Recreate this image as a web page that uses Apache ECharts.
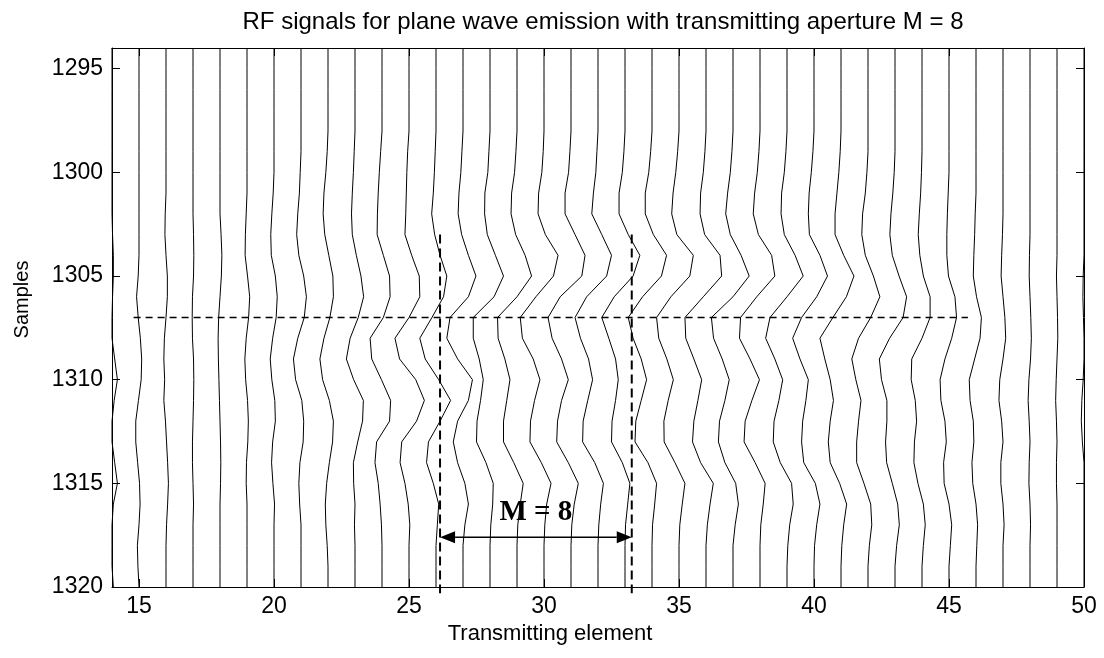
<!DOCTYPE html>
<html><head><meta charset="utf-8">
<script src="https://cdn.jsdelivr.net/npm/echarts@6/dist/echarts.min.js"></script>
<style>html,body{margin:0;padding:0;background:#fff}#c{width:1104px;height:658px}</style>
</head><body><div id="c"></div>
<script>
const samples = [1294,1295,1296,1297,1298,1299,1300,1301,1302,1303,1304,1305,1306,1307,1308,1309,1310,1311,1312,1313,1314,1315,1316,1317,1318,1319,1320];
const elements = [14,15,16,17,18,19,20,21,22,23,24,25,26,27,28,29,30,31,32,33,34,35,36,37,38,39,40,41,42,43,44,45,46,47,48,49,50];
// offset of each trace from its element position (in element units), one row per element, one value per sample
const traceOffsets = [
[0,0,0,0,0,0,0,0,0,0.02,0.05,0.05,0.02,0,0,0.1,0.2,0.08,0,0,0.1,0.2,0.05,0,0,0,0.05],
[0,0,0,0,0,0,0,0,0,0,0,-0.03,-0.09,-0.03,0.05,0.1,0.08,-0.02,-0.12,-0.12,-0.05,0.02,0.04,0,-0.06,-0.04,0],
[0,0,0,0,0,0,0,0,-0.03,-0.04,0,0.05,0.05,0,-0.06,-0.08,-0.05,-0.08,-0.02,0.02,0.06,0.09,0.06,0.02,0,0,0],
[0,0,0,0,0,0,0,0,0,0.02,0.03,0.02,-0.02,-0.03,-0.02,0.02,0.03,0.02,0,-0.02,-0.02,0,0.02,0,0,0,0],
[0,0,0,0,0,0,0,0,0,0.04,0.07,0.05,0,-0.05,-0.07,-0.06,-0.04,-0.02,0,0.02,0.03,0.02,0,0,0,0,0],
[0,0,0,0,0,0,0,0,-0.03,-0.06,-0.07,0.02,0.1,0.06,-0.03,-0.08,-0.05,0.02,0.05,0.03,-0.02,-0.03,0,0,0,0,0],
[0,0,0,0,0,0,0,-0.03,-0.08,-0.12,-0.1,0.05,0.12,0.08,-0.05,-0.14,-0.08,0.03,0.05,-0.05,-0.09,-0.04,0.02,0,0,0,0],
[0,0,0,0,0,0,-0.03,-0.06,-0.12,-0.16,-0.08,0.1,0.2,0.12,-0.12,-0.28,-0.2,0.03,0.1,0.08,-0.04,-0.08,-0.05,0,0,0,0],
[0,0,0,0,0,-0.03,-0.08,-0.15,-0.18,-0.12,0.03,0.18,0.2,0.07,-0.15,-0.3,-0.2,0.05,0.2,0.17,0.05,-0.05,-0.1,-0.08,-0.03,0,0],
[0,0,0,0,0,-0.03,-0.06,-0.1,-0.13,-0.1,0.05,0.22,0.32,0.12,-0.18,-0.32,-0.05,0.31,0.28,0.1,-0.06,-0.05,0,-0.02,0,0,0],
[0,0,0,0,0,-0.05,-0.1,-0.14,-0.17,-0.18,0.05,0.28,0.3,0.05,-0.44,-0.38,-0.02,0.32,0.28,-0.2,-0.26,-0.14,-0.07,-0.02,0,0,0],
[0,0,0,0,0,-0.05,-0.08,-0.1,-0.12,-0.15,0.1,0.38,0.4,0,-0.52,-0.35,0.25,0.57,0.28,-0.27,-0.33,-0.15,-0.03,0.03,0,0,0],
[0,0,0,0,0,-0.03,-0.06,-0.1,-0.16,-0.05,0.15,0.4,0.28,-0.15,-0.6,-0.4,0.1,0.54,0.15,-0.28,-0.35,-0.1,0.1,0.05,0,0,0],
[0,0,0,0,0,-0.04,-0.08,-0.15,-0.18,-0.05,0.2,0.48,0.2,-0.48,-0.6,-0.2,0.35,0.2,-0.2,-0.36,-0.2,0.07,0.2,0.07,0,0,0],
[0,0,0,0,0,-0.04,-0.08,-0.19,-0.2,-0.1,0.2,0.5,0.15,-0.62,-0.62,-0.4,-0.25,-0.35,-0.48,-0.5,-0.15,0.12,0.1,0.03,0,0,0],
[0,0,0,0,0,-0.04,-0.09,-0.2,-0.22,-0.05,0.3,0.54,0,-0.72,-0.7,-0.45,-0.26,-0.38,-0.5,-0.5,-0.12,0.23,0.12,0.03,0,0,0],
[0,0,0,0,0,-0.03,-0.08,-0.2,-0.22,0.05,0.52,0.35,-0.3,-0.88,-0.8,-0.4,-0.15,-0.35,-0.5,-0.52,-0.1,0.26,0.1,0.03,0,0,0],
[0,0,0,0,0,-0.04,-0.09,-0.22,-0.22,0.15,0.52,0.4,-0.4,-0.85,-0.7,-0.35,-0.1,-0.35,-0.5,-0.53,-0.1,0.27,0.12,0.03,0,0,0],
[0,0,0,0,0,-0.04,-0.08,-0.17,-0.23,0.14,0.5,0.32,-0.42,-0.85,-0.65,-0.35,-0.2,-0.38,-0.55,-0.57,-0.12,0.2,0.1,0.03,0,0,0],
[0,0,0,0,0,-0.04,-0.1,-0.22,-0.22,0.12,0.55,0.3,-0.4,-0.86,-0.6,-0.35,-0.25,-0.35,-0.48,-0.5,-0.1,0.18,0.1,0.02,0,0,0],
[0,0,0,0,0,-0.05,-0.12,-0.25,-0.25,0.05,0.54,0.35,-0.35,-0.88,-0.7,-0.4,-0.2,-0.4,-0.6,-0.63,-0.15,0.17,0.1,0.02,0,0,0],
[0,0,0,0,0,-0.05,-0.12,-0.22,-0.27,-0.08,0.53,0.4,-0.3,-0.83,-0.75,-0.45,-0.21,-0.4,-0.56,-0.55,-0.15,0.22,0.12,0.03,0,0,0],
[0,0,0,0,0,-0.04,-0.1,-0.2,-0.22,-0.05,0.52,0.58,-0.1,-0.78,-0.75,-0.45,-0.16,-0.3,-0.45,-0.5,-0.2,0.27,0.15,0.05,0,0,0],
[0,0,0,0,0,-0.04,-0.1,-0.2,-0.27,-0.1,0.3,0.6,0,-0.8,-0.72,-0.4,-0.14,-0.3,-0.5,-0.54,-0.3,0.1,0.2,0.08,0,0,0],
[0,0,0,0,0,-0.04,-0.1,-0.2,-0.25,-0.06,0.43,0.55,-0.12,-0.72,-0.76,-0.37,-0.02,-0.3,-0.55,-0.59,-0.18,0.19,0.12,0.03,0,0,0],
[0,0,0,0,0,-0.04,-0.1,-0.2,-0.22,-0.1,0.3,0.6,0,-0.63,-0.79,-0.45,-0.16,-0.3,-0.48,-0.51,-0.25,0.17,0.23,0.1,0.03,0,0],
[0,0,0,0,0,-0.04,-0.1,-0.18,-0.21,-0.17,0.22,0.5,0.1,-0.46,-0.79,-0.52,-0.21,-0.3,-0.42,-0.46,-0.38,0.05,0.22,0.1,0.02,0,0],
[0,0,0,0,0,-0.03,-0.08,-0.15,-0.22,-0.22,0.1,0.48,0.2,-0.3,-0.78,-0.6,-0.4,-0.28,-0.4,-0.47,-0.4,-0.05,0.21,0.1,0.03,0,0],
[0,0,0,0,0,0,-0.04,-0.1,-0.2,-0.23,-0.1,0.2,0.44,0.1,-0.35,-0.6,-0.45,-0.26,-0.35,-0.42,-0.42,-0.15,0.1,0.14,0.05,0,0],
[0,0,0,0,0,0,-0.03,-0.08,-0.15,-0.19,-0.1,0.15,0.43,0.3,-0.2,-0.58,-0.5,-0.3,-0.3,-0.35,-0.31,-0.1,0.1,0.16,0.06,0,0],
[0,0,0,0,0,0,-0.02,-0.05,-0.1,-0.14,-0.08,0.05,0.3,0.3,0,-0.38,-0.4,-0.25,-0.2,-0.28,-0.3,-0.15,0.05,0.12,0.05,0,0],
[0,0,0,0,0,0,0,-0.03,-0.06,-0.08,-0.08,-0.02,0.22,0.28,0.1,-0.15,-0.33,-0.3,-0.15,-0.1,-0.2,-0.18,0,0.1,0.05,0,0],
[0,0,0,0,0,0,0,0,-0.03,-0.05,-0.08,-0.1,0.02,0.2,0.15,-0.05,-0.25,-0.22,-0.1,-0.08,-0.15,-0.12,0,0.06,0.03,0,0],
[0,0,0,0,0,0,0,0,0,-0.02,-0.05,-0.07,0,0.07,0.1,0,-0.12,-0.15,-0.05,0,-0.08,-0.08,0,0.04,0,0,0],
[0,0,0,0,0,0,0,0,0,0,-0.02,-0.03,0,0.03,0.05,0.02,-0.04,-0.07,-0.03,0,-0.03,-0.04,0,0.02,0,0,0],
[0,0,0,0,0,0,0,0,0,0,0,-0.02,0,0.02,0.03,0,-0.03,-0.05,-0.02,0,-0.02,-0.02,0,0,0,0,0],
[0,0,0,0,0,0,0,0,0,0,0,-0.03,-0.04,-0.02,0,0,-0.03,-0.08,-0.1,-0.06,0,0,0,0,0,0,0]
];
const xTicks = [15,20,25,30,35,40,45,50];
const yTicks = [1295,1300,1305,1310,1315,1320];
const refSample = 1307;
const refLineRange = [14.8, 45.7];
const apertureEdges = [26.15, 33.25];
const apertureSampleRange = [1303, 1320.3];
const arrowSample = 1317.6;
const apertureLabel = 'M = 8';
const apertureLabelPos = [29.7, 1316.4];

const FONT = 'Liberation Sans, Arial, Helvetica, sans-serif';
const chart = echarts.init(document.getElementById('c'), null, {renderer: 'canvas'});

const series = elements.map((e, k) => ({
  type: 'line',
  data: samples.map((s, i) => [e + traceOffsets[k][i], s]),
  symbol: 'none', showSymbol: false, silent: true, clip: true,
  lineStyle: {color: '#000', width: 1},
  z: 2
}));

series.push({
  type: 'line', symbol: 'none', silent: true, clip: true,
  data: [[refLineRange[0], refSample], [refLineRange[1], refSample]],
  lineStyle: {color: '#000', width: 1.6, type: [7, 5]}, z: 3
});
apertureEdges.forEach(x => series.push({
  type: 'line', symbol: 'none', silent: true, clip: false,
  data: [[x, apertureSampleRange[0]], [x, apertureSampleRange[1]]],
  lineStyle: {color: '#000', width: 2, type: [9, 5]}, z: 3
}));
series.push({
  type: 'custom', silent: true, clip: false, z: 4,
  data: [[apertureEdges[0], apertureEdges[1], arrowSample]],
  renderItem: function (params, api) {
    const p1 = api.coord([api.value(0), api.value(2)]);
    const p2 = api.coord([api.value(1), api.value(2)]);
    const L = 15, W = 6;
    return {type: 'group', children: [
      {type: 'line', shape: {x1: p1[0] + L, y1: p1[1], x2: p2[0] - L, y2: p2[1]}, style: {stroke: '#000', lineWidth: 1.5}},
      {type: 'polygon', shape: {points: [[p1[0], p1[1]], [p1[0] + L, p1[1] - W], [p1[0] + L, p1[1] + W]]}, style: {fill: '#000'}},
      {type: 'polygon', shape: {points: [[p2[0], p2[1]], [p2[0] - L, p2[1] - W], [p2[0] - L, p2[1] + W]]}, style: {fill: '#000'}}
    ]};
  }
});
series.push({
  type: 'custom', silent: true, clip: false, z: 5,
  data: [apertureLabelPos],
  renderItem: function (params, api) {
    const p = api.coord([api.value(0), api.value(1)]);
    return {type: 'text', x: p[0], y: p[1], style: {text: apertureLabel, fill: '#000',
      font: 'bold 29px "Liberation Serif", "Times New Roman", serif', align: 'center', verticalAlign: 'middle'}};
  }
});

const axisLineStyle = {show: true, onZero: false, lineStyle: {color: '#000', width: 1}};
const plain = v => String(v);
chart.setOption({
  animation: false,
  backgroundColor: '#fff',
  title: {text: 'RF signals for plane wave emission with transmitting aperture M = 8', left: 598, top: 5, textAlign: 'center',
    textStyle: {fontSize: 24, fontWeight: 'normal', color: '#000', fontFamily: FONT}},
  grid: {left: 112, right: 20, top: 48, bottom: 71, containLabel: false},
  xAxis: [
    {type: 'value', min: 14, max: 50, position: 'bottom', axisLine: axisLineStyle,
     axisTick: {show: true, inside: true, length: 8, customValues: xTicks, lineStyle: {color: '#000'}},
     axisLabel: {customValues: xTicks, formatter: plain, color: '#000', fontSize: 23, fontFamily: FONT, margin: 8},
     splitLine: {show: false},
     name: 'Transmitting element', nameLocation: 'middle', nameGap: 29,
     nameTextStyle: {fontSize: 22, color: '#000', fontFamily: FONT, padding: [0, 96, 0, 0]}},
    {type: 'value', min: 14, max: 50, position: 'top', axisLine: axisLineStyle,
     axisTick: {show: true, inside: true, length: 8, customValues: xTicks, lineStyle: {color: '#000'}},
     axisLabel: {show: false}, splitLine: {show: false}}
  ],
  yAxis: [
    {type: 'value', min: 1294, max: 1320, inverse: true, position: 'left', axisLine: axisLineStyle,
     axisTick: {show: true, inside: true, length: 8, customValues: yTicks, lineStyle: {color: '#000'}},
     axisLabel: {customValues: yTicks, formatter: plain, color: '#000', fontSize: 23, fontFamily: FONT, margin: 9},
     splitLine: {show: false},
     name: 'Samples', nameLocation: 'middle', nameGap: 80, nameRotate: 90,
     nameTextStyle: {fontSize: 20, color: '#000', fontFamily: FONT, padding: [0, 0, 0, 36]}},
    {type: 'value', min: 1294, max: 1320, inverse: true, position: 'right', axisLine: axisLineStyle,
     axisTick: {show: true, inside: true, length: 8, customValues: yTicks, lineStyle: {color: '#000'}},
     axisLabel: {show: false}, splitLine: {show: false}}
  ],
  series: series
});
</script></body></html>
